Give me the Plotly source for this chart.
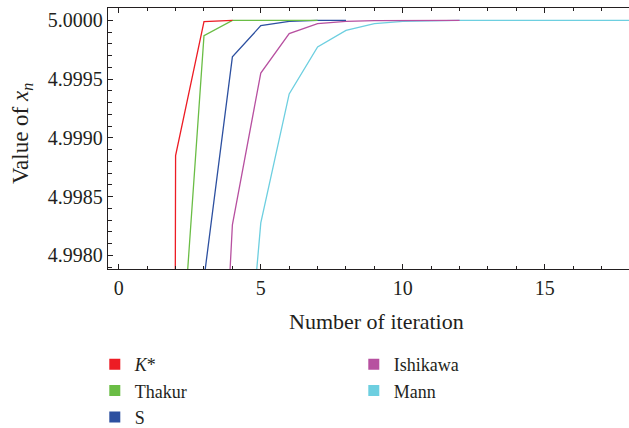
import plotly.graph_objects as go

# ---- data ----
series_names = ["<i>K</i>*", "Thakur", "S", "Ishikawa", "Mann"]
series_colors = ["#ed1c24", "#6abd45", "#2d50a0", "#b750a0", "#6dcfe0"]

kstar_x = [1, 2, 3, 4]
kstar_y = [4.90, 4.99885, 4.99999, 5.0]

thakur_x = [1, 2, 3, 4, 5, 6, 7]
thakur_y = [4.90, 4.9964, 4.99987, 5.0, 5.0, 5.0, 5.0]

s_x = [1, 2, 3, 4, 5, 6, 7, 8]
s_y = [4.90, 4.99, 4.9978, 4.99969, 4.999955, 4.999992, 5.0, 5.0]

ishikawa_x = [1, 2, 3, 4, 5, 6, 7, 8, 9, 10, 11, 12]
ishikawa_y = [4.90, 4.97, 4.9936, 4.99826, 4.999552, 4.999887, 4.999972,
              4.999992, 4.999998, 5.0, 5.0, 5.0]

mann_x = list(range(1, 19))
mann_y = [4.90, 4.96, 4.985, 4.9955, 4.998276, 4.999374, 4.999774, 4.999915,
          4.999972, 4.999992, 4.999998, 5.0, 5.0, 5.0, 5.0, 5.0, 5.0, 5.0]

y_tickvals = [4.9980, 4.9985, 4.9990, 4.9995, 5.0000]
y_ticktext = ["4.9980", "4.9985", "4.9990", "4.9995", "5.0000"]
x_tickvals = [0, 5, 10, 15]

xs = [kstar_x, thakur_x, s_x, ishikawa_x, mann_x]
ys = [kstar_y, thakur_y, s_y, ishikawa_y, mann_y]
legend_rank = [1, 3, 5, 2, 4]  # column-major order in a 2-column legend

TEXT = "#231f20"
FONT = "Liberation Serif, DejaVu Serif, Times New Roman, serif"

W = 644          # figure slightly wider than the window; right border falls off-screen
L, T, B = 108, 8, 159
PW = W - L
PX_PER_UNIT = 28.4

fig = go.Figure()

# lines: Mann drawn first, K* last (on top)
for i in reversed(range(5)):
    fig.add_trace(go.Scatter(
        x=xs[i], y=ys[i], mode="lines",
        line=dict(color=series_colors[i], width=1.3),
        showlegend=False, hoverinfo="skip",
    ))

# legend entries as squares
for i in range(5):
    fig.add_trace(go.Scatter(
        x=[None], y=[None], mode="markers", name=series_names[i],
        marker=dict(symbol="square", size=11, color=series_colors[i]),
        legendrank=legend_rank[i], showlegend=True,
    ))

fig.update_layout(
    width=W, height=428,
    margin=dict(l=L, r=0, t=T, b=B, autoexpand=False),
    paper_bgcolor="white", plot_bgcolor="white",
    font=dict(family=FONT, color=TEXT, size=19),
    showlegend=True,
    hovermode=False,
    legend=dict(
        orientation="h", x=-13.2 / PW, xanchor="left", y=-(346 - 269) / 261, yanchor="top",
        entrywidth=214, font=dict(family=FONT, size=18, color=TEXT),
        bgcolor="rgba(0,0,0,0)", tracegroupgap=0,
    ),
    xaxis=dict(
        range=[-0.38, -0.38 + PW / PX_PER_UNIT], tickvals=x_tickvals,
        ticktext=[str(v) for v in x_tickvals],
        ticks="inside", ticklen=5, tickwidth=1, tickcolor=TEXT,
        minor=dict(dtick=1, ticks="inside", ticklen=3, tickcolor=TEXT, showgrid=False),
        showline=True, linecolor=TEXT, linewidth=1.3, mirror="ticks",
        showgrid=False, zeroline=False,
        tickfont=dict(family=FONT, size=20, color=TEXT),
        ticklabelstandoff=1,
    ),
    yaxis=dict(
        range=[4.997884, 5.0001055], tickvals=y_tickvals, ticktext=y_ticktext,
        ticks="inside", ticklen=5, tickwidth=1, tickcolor=TEXT,
        minor=dict(dtick=0.0001, tick0=4.9980, ticks="inside", ticklen=4, tickcolor=TEXT, showgrid=False),
        showline=True, linecolor=TEXT, linewidth=1.3, mirror=False,
        showgrid=False, zeroline=False,
        tickfont=dict(family=FONT, size=20, color=TEXT),
    ),
    annotations=[
        dict(text="Number of iteration", xref="paper", yref="paper",
             x=(376 - L) / PW, y=-(321 - 269) / 261, xanchor="center", yanchor="middle",
             showarrow=False, font=dict(family=FONT, size=22, color=TEXT)),
        dict(text="Value of <i>x</i><sub><i>n</i></sub>", xref="paper", yref="paper",
             x=(22 - L) / PW, y=(269 - 134) / 261, xanchor="center", yanchor="middle",
             textangle=-90, showarrow=False, font=dict(family=FONT, size=23, color=TEXT)),
    ],
)

fig.write_html(
    "out.html",
    config={"displayModeBar": False},
    post_script=("document.documentElement.style.margin='0';"
                 "document.documentElement.style.overflow='hidden';"
                 "document.body.style.margin='0';document.body.style.padding='0';"
                 "document.body.style.overflow='hidden';"),
)
